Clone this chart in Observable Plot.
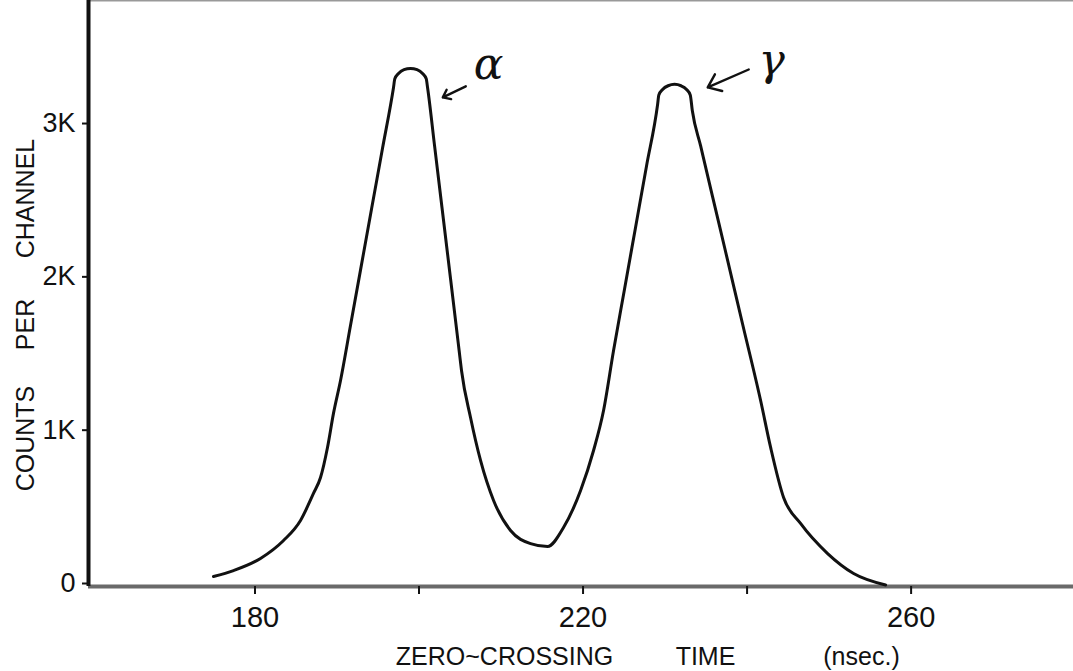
<!DOCTYPE html>
<html>
<head>
<meta charset="utf-8">
<script src="https://cdn.jsdelivr.net/npm/d3@7"></script>
<script src="https://cdn.jsdelivr.net/npm/@observablehq/plot@0.6"></script>
<style>
  html, body { margin: 0; padding: 0; background: #fff; }
  svg { display: block; }
</style>
</head>
<body>
<div id="chart"></div>
<script>
// Zero-crossing time (nsec.) and counts per channel
const time = [174.94, 177.38, 180.67, 183.48, 185.55, 187.13, 187.99, 188.84, 189.57,
  190.43, 191.65, 192.87, 194.21, 195.55, 196.89,
  197.05, 197.50, 198.17, 198.96, 199.76, 200.43, 200.88,
  201.04, 201.89, 202.80, 203.84, 204.89, 205.18,
  206.28, 207.50, 209.09, 211.16, 213.60, 215.67, 217.62, 219.70, 221.28, 222.50,
  223.72, 225.06, 226.40, 227.74, 229.09,
  229.24, 229.70, 230.37, 231.16, 231.95, 232.62, 233.07, 233.32,
  234.33, 235.79, 237.26, 239.45, 241.65,
  242.87, 244.45, 246.52, 249.82, 252.99, 256.89];
const counts = [65, 104, 183, 300, 431, 607, 711, 907, 1129,
  1344, 1704, 2065, 2462, 2858, 3255,
  3311, 3346, 3371, 3379, 3371, 3346, 3311,
  3255, 2877, 2472, 2009, 1539, 1409,
  1102, 822, 561, 365, 280, 261, 385, 626, 887, 1148,
  1539, 1941, 2342, 2743, 3144,
  3206, 3242, 3266, 3275, 3266, 3242, 3206, 3105,
  2875, 2543, 2211, 1712, 1213,
  907, 581, 411, 215, 85, 10];

const xDomain = [159.7, 279.8];
const yDomain = [0, 3822];
const xTicks = [180, 200, 220, 240, 260];
const xTickLabels = [180, 220, 260];
const yTicks = [0, 1000, 2000, 3000];
const yTickLabels = ["0", "1K", "2K", "3K"];

// peak annotations
const peakNames = ["α", "γ"];
const arrowTailX = [205.7, 240.2];
const arrowTailY = [3262, 3372];
const arrowHeadX = [202.9, 235.2];
const arrowHeadY = [3190, 3255];
const nameX = [208.5, 243.0];
const nameY = [3399, 3431];

const xLabelWords = ["ZERO~CROSSING", "TIME", "(nsec.)"];
const yLabelWords = ["COUNTS", "PER", "CHANNEL"];

const curve = time.map((t, i) => ({t, c: counts[i]}));
const notes = peakNames.map((n, i) => ({
  n, x1: arrowTailX[i], y1: arrowTailY[i], x2: arrowHeadX[i], y2: arrowHeadY[i],
  tx: nameX[i], ty: nameY[i]
}));

const font = "Liberation Sans, Arial, sans-serif";
const xWordOffsets = [416, 617, 773];
const yWordOffsets = [145, 31, -95];

const chart = Plot.plot({
  width: 1073,
  height: 671,
  marginLeft: 88,
  marginRight: 0,
  marginTop: 0,
  marginBottom: 85,
  style: {fontFamily: font, background: "#fff", color: "#111"},
  x: {domain: xDomain},
  y: {domain: yDomain},
  marks: [
    Plot.frame({anchor: "top", stroke: "#999", strokeWidth: 2}),
    Plot.ruleY([0], {stroke: "#6a6a6a", strokeWidth: 4}),
    Plot.ruleX([xDomain[0]], {stroke: "#111", strokeWidth: 4}),
    Plot.axisX({
      ticks: xTicks,
      tickSize: 8,
      tickPadding: 12,
      strokeWidth: 2,
      tickFormat: d => xTickLabels.includes(d) ? String(d) : "",
      fontSize: 29,
      label: null
    }),
    Plot.axisY({
      ticks: yTicks,
      tickSize: 6,
      tickPadding: 7,
      strokeWidth: 2,
      dy: -3,
      tickFormat: d => yTickLabels[yTicks.indexOf(d)],
      fontSize: 27,
      label: null
    }),
    Plot.line(curve, {x: "t", y: "c", curve: "monotone-x", stroke: "#111", strokeWidth: 3}),
    Plot.arrow(notes, {x1: "x1", y1: "y1", x2: "x2", y2: "y2", stroke: "#111",
      strokeWidth: 2.4, headLength: 12, headAngle: 75}),
    Plot.text(notes, {x: "tx", y: "ty", text: "n", fontSize: 44, fontStyle: "italic",
      fontFamily: "DejaVu Serif, serif", fill: "#111"}),
    // x axis title words
    ...xLabelWords.map((w, i) => Plot.text([w], {frameAnchor: "bottom-left", dx: xWordOffsets[i], dy: 70,
      text: d => d, textAnchor: "middle", lineAnchor: "middle", fontSize: 25, fill: "#111"})),
    // y axis title words
    ...yLabelWords.map((w, i) => Plot.text([w], {frameAnchor: "left", dx: -63, dy: yWordOffsets[i],
      rotate: -90, text: d => d, textAnchor: "middle", lineAnchor: "middle", fontSize: 25, fill: "#111"}))
  ]
});
document.getElementById("chart").appendChild(chart);
</script>
</body>
</html>
